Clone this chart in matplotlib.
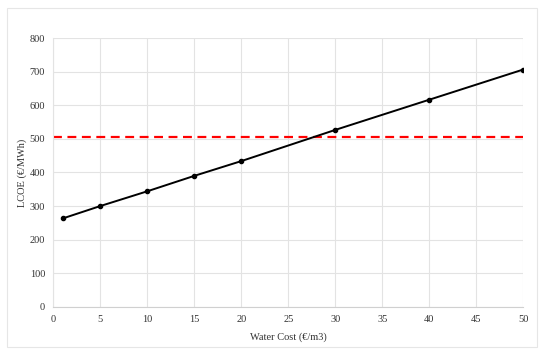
import numpy as np
import matplotlib.pyplot as plt
from matplotlib.patches import Rectangle

plt.rcParams["font.family"] = ["Liberation Serif", "DejaVu Serif"]

# data
water_cost = [1, 5, 10, 15, 20, 30, 40, 50]
lcoe = [263, 300, 344, 390, 434, 527, 617, 707]
reference_lcoe = 507

fig = plt.figure(figsize=(5.5, 3.57), dpi=100)
ax = fig.add_axes([0.097, 0.141, 0.8545, 0.7517])

ax.plot(water_cost, lcoe, color="black", lw=1.4, marker="o", ms=3, zorder=3)
ax.plot([0, 50], [reference_lcoe, reference_lcoe], color="#ff0000", lw=1.6,
        ls=(0, (4, 2.5)), zorder=2)

ax.set_xlim(0, 50)
ax.set_ylim(0, 800)
ax.set_xticks(np.arange(0, 51, 5))
ax.set_yticks(np.arange(0, 801, 100))
ax.grid(True, color="#e3e3e3", lw=0.8)
ax.set_axisbelow(True)
ax.tick_params(length=0, labelsize=7.5, pad=6, colors="#333333")
for side in ["top", "right"]:
    ax.spines[side].set_visible(False)
ax.spines["left"].set_color("#e3e3e3")
ax.spines["bottom"].set_color("#d0d0d0")

ax.set_xlabel("Water Cost (€/m3)", fontsize=7.5, color="#333333", labelpad=6)
ax.set_ylabel("LCOE (€/MWh)", fontsize=7.5, color="#333333", labelpad=2)

fig.patches.append(Rectangle((7 / 550, 1 - 347 / 357), 530 / 550, 339 / 357,
                             transform=fig.transFigure, fill=False,
                             edgecolor="#e6e6e6", lw=0.8))

fig.savefig("out.png", dpi=100)
